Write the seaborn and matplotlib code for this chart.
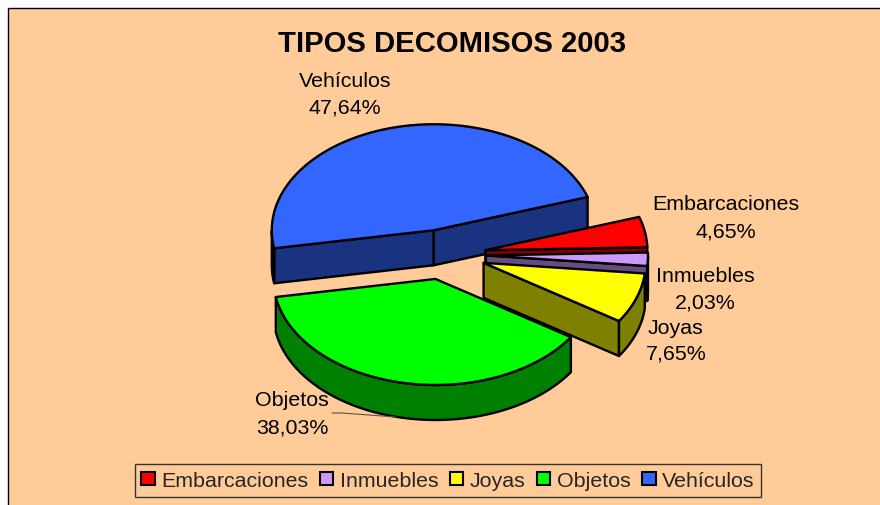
import matplotlib

matplotlib.use("Agg")

import matplotlib.pyplot as plt
import numpy as np
import seaborn as sns
from matplotlib.patches import Patch, Polygon, Rectangle

categories = ["Embarcaciones", "Inmuebles", "Joyas", "Objetos", "Vehículos"]
shares = [4.65, 2.03, 7.65, 38.03, 47.64]
colors = ["#FF0000", "#CC99FF", "#FFFF00", "#00FF00", "#3366FF"]
title = "TIPOS DECOMISOS 2003"

# pie layout in pixels
START_ANGLE = 18.3
CX, CY = 444, 255.5
RX, RY = 162, 106
EXPLODE_X, EXPLODE_Y = 42, 25
DEPTH = 35
BG = "#FFCC99"
LW = 1.7

label_pos = {
    "Embarcaciones": (726, 205, 232),
    "Inmuebles": (705, 276, 303),
    "Joyas": (676, 328, 354),
    "Objetos": (292, 401, 428),
    "Vehículos": (345, 81, 108),
}

sns.set_style("white")
plt.rcParams["font.family"] = ["Liberation Sans", "DejaVu Sans"]


def darken(color):
    return tuple(c * 0.5 for c in matplotlib.colors.to_rgb(color))


def draw_slice(ax, t_start, t_end, color):
    # t_start > t_end, slices run clockwise
    mid = np.radians((t_start + t_end) / 2)
    ox = CX + EXPLODE_X * np.cos(mid)
    oy = CY - EXPLODE_Y * np.sin(mid)
    side = darken(color)

    def edge(t):
        return ox + RX * np.cos(t), oy - RY * np.sin(t)

    t0, t1 = np.radians(t_start), np.radians(t_end)
    ts = np.linspace(t0, t1, 200)
    x, y = edge(ts)

    def wall(points):
        ax.add_patch(Polygon(points, closed=True, fc=side, ec="black", lw=LW, joinstyle="round"))

    # radial cut faces, only the ones turned to the viewer
    for t, visible in [(t0, np.cos(t0) < 0), (t1, np.cos(t1) > 0)]:
        if visible:
            ex, ey = edge(t)
            wall([(ox, oy), (ex, ey), (ex, ey + DEPTH), (ox, oy + DEPTH)])

    # outer rim
    front = np.sin(ts) < 0
    if front.any():
        fx, fy = x[front], y[front]
        wall(np.r_[np.c_[fx, fy], np.c_[fx, fy + DEPTH][::-1]])

    top = np.r_[[[ox, oy]], np.c_[x, y]]
    ax.add_patch(Polygon(top, closed=True, fc=color, ec="black", lw=LW, joinstyle="round"))


fig = plt.figure(figsize=(8.8, 5.06), dpi=100, facecolor="white")
ax = fig.add_axes([0, 0, 1, 1])
ax.set_xlim(0, 880)
ax.set_ylim(506, 0)
ax.axis("off")
ax.add_patch(Rectangle((8, 9), 890, 510, fc=BG, ec="black", lw=1))

spans = np.array(shares) / sum(shares) * 360
ends = START_ANGLE - np.cumsum(spans)
starts = ends + spans
# back slice first, the front one last
for i in [4, 0, 1, 2, 3]:
    draw_slice(ax, starts[i], ends[i], colors[i])

ax.text(452, 44, title, fontsize=21.1, fontweight="bold", ha="center", va="center", color="black")

for name, share in zip(categories, shares):
    lx, y1, y2 = label_pos[name]
    ax.text(lx, y1, name, fontsize=15.4, ha="center", va="center", color="black")
    ax.text(lx, y2, f"{share:.2f}".replace(".", ",") + "%", fontsize=15.4, ha="center", va="center", color="black")

# leader line for Objetos
ax.plot([332, 342, 396], [414, 414, 418], color="#555555", lw=0.8)

handles = [Patch(fc=c, ec="black", lw=1.5) for c in colors]
leg = ax.legend(
    handles,
    categories,
    ncol=5,
    loc="center",
    bbox_to_anchor=(448, 481.5),
    bbox_transform=ax.transData,
    fontsize=15.4,
    frameon=True,
    fancybox=False,
    facecolor=BG,
    edgecolor="#333333",
    framealpha=1,
    handlelength=0.62,
    handleheight=0.62,
    handletextpad=0.3,
    columnspacing=0.55,
    borderpad=0.32,
    borderaxespad=0,
)
leg.get_frame().set_linewidth(1)

fig.savefig("out.png", dpi=100)
